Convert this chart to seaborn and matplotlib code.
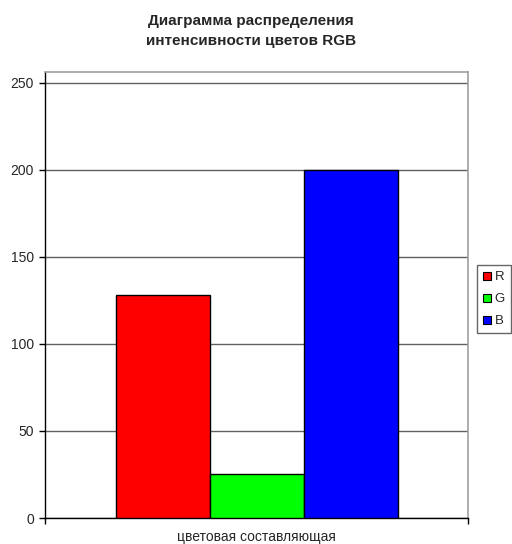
import matplotlib
matplotlib.use("Agg")
import matplotlib.pyplot as plt
import seaborn as sns
import pandas as pd
from matplotlib.lines import Line2D

# Data
components = ["R", "G", "B"]
intensity = [128, 25, 200]
category = "цветовая составляющая"
colors = ["#ff0000", "#00ff00", "#0000ff"]
y_ticks = [0, 50, 100, 150, 200, 250]

sns.set_theme(style="white")
plt.rcParams["font.family"] = ["Liberation Sans", "DejaVu Sans"]

df = pd.DataFrame({"cat": [category] * len(components),
                   "comp": components,
                   "val": intensity})

fig = plt.figure(figsize=(5.12, 5.44), dpi=100)
ax = fig.add_axes([45 / 512, 1 - 518 / 544, 423 / 512, 446 / 544])

sns.barplot(data=df, x="cat", y="val", hue="comp", hue_order=components,
            palette=colors, width=2 / 3, edgecolor="black", linewidth=1.0,
            saturation=1, legend=False, ax=ax, zorder=3)

ax.set_xlim(-0.5, 0.5)
ax.set_ylim(0, 256.3)
ax.set_yticks(y_ticks)
ax.set_yticklabels([str(v) for v in y_ticks], fontsize=10)
ax.yaxis.grid(True, color="#606060", linewidth=1.0, zorder=0)
ax.set_axisbelow(True)

ax.set_xlabel("")
ax.set_ylabel("")
ax.set_xticks([0])
ax.set_xticklabels([category], fontsize=10)
ax.tick_params(axis="x", which="major", length=0, pad=8.5)
ax.set_xticks([-0.5, 0.5], minor=True)
ax.tick_params(axis="x", which="minor", length=4, width=1, color="black",
               direction="out", bottom=True)
ax.tick_params(axis="y", length=4, width=1, color="black", direction="out",
               left=True, pad=4)

for side in ["left", "bottom"]:
    ax.spines[side].set_color("black")
    ax.spines[side].set_linewidth(1.0)
for side in ["top", "right"]:
    ax.spines[side].set_color("#a0a0a0")
    ax.spines[side].set_linewidth(1.2)

fig.text(0.49, 1 - 14 / 544, "Диаграмма распределения\nинтенсивности цветов RGB",
         ha="center", va="top", fontsize=11, fontweight="bold", linespacing=1.55)

handles = [Line2D([], [], marker="s", linestyle="none", markersize=6,
                  markerfacecolor=c, markeredgecolor="black", markeredgewidth=0.8)
           for c in colors]
leg = fig.legend(handles, components, loc="upper left",
                 bbox_to_anchor=(477 / 512, 1 - 265 / 544), frameon=True,
                 fancybox=False, fontsize=9.5, handlelength=0.6,
                 handletextpad=0.3, borderpad=0.45, labelspacing=0.75,
                 borderaxespad=0)
leg.get_frame().set_edgecolor("#404040")
leg.get_frame().set_linewidth(1.0)

fig.savefig("out.png", dpi=100)
